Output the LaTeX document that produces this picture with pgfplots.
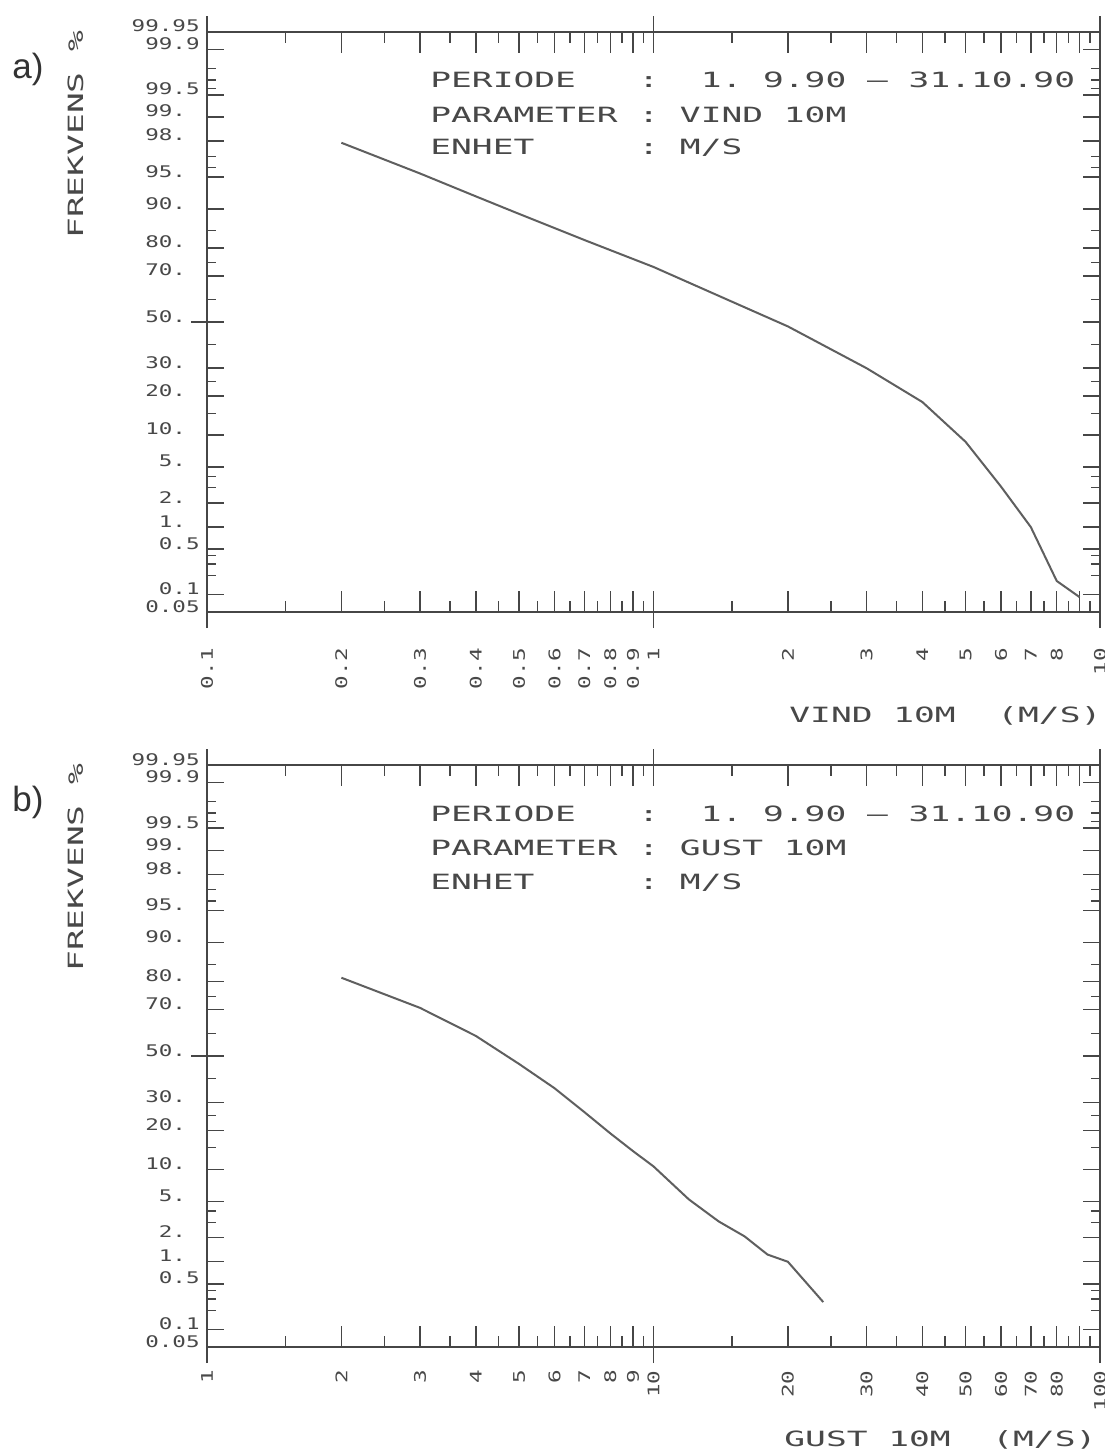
\documentclass[border=0pt]{standalone}
\usepackage{pgfplots}
\pgfplotsset{compat=1.18}
\usepackage{fontspec}
\setmainfont{Liberation Sans}
\newfontfamily\plotfont[FakeStretch=1.645]{DejaVu Sans Mono}
\newfontfamily\tickfont[FakeStretch=1.41]{DejaVu Sans Mono}

\definecolor{axgray}{RGB}{70,70,70}
\definecolor{txtgray}{RGB}{72,72,72}
\definecolor{curvegray}{RGB}{95,95,95}

\newcommand\ticklabelfont{\tickfont\fontsize{8pt}{8pt}\selectfont}
\newcommand\bodyfont{\plotfont\fontsize{10.5pt}{10.5pt}\selectfont}
\newcommand\blank{\phantom{0}}

% normal-probability scale: percentage -> standard normal quantile
% (rational approximation, Abramowitz & Stegun 26.2.23)
\newcommand\probT[1]{(sqrt(-2*ln(min(#1,100-#1)/100)))}
\newcommand\probit[1]{\fpeval{sign(#1-50)*(\probT{#1}-(2.515517+0.802853*\probT{#1}+0.010328*\probT{#1}^2)/(1+1.432788*\probT{#1}+0.189269*\probT{#1}^2+0.001308*\probT{#1}^3))}}

\pgfplotsset{
  probaxis/.style={
    scale only axis, width=446.5pt,
    anchor=south west,
    ymin=0.05, ymax=99.95,
    y coord trafo/.code={\edef\pgfmathresult{\probit{##1}}},
    axis line style={draw=axgray, line width=0.85pt},
    tick style={draw=axgray, line width=0.7pt},
    tick align=inside,
  },
  xticks/.style={
    ytick=\empty,
    major tick length=10.5pt, minor tick length=5.5pt,
    xticklabel style={font=\ticklabelfont, text=txtgray, rotate=90, anchor=east, inner sep=0pt},
  },
  yticks/.style={
    xtick=\empty,
    major tick length=8.5pt, minor tick length=4.5pt,
    ytick={0.05,0.1,0.5,1,2,5,10,20,30,50,70,80,90,95,98,99,99.5,99.9,99.95},
    yticklabels={0.05,0.1,0.5,1.\blank,2.\blank,5.\blank,10.\blank,20.\blank,30.\blank,50.\blank,70.\blank,80.\blank,90.\blank,95.\blank,98.\blank,99.\blank,99.5,99.9,99.95},
    minor ytick={0.2,0.3,0.4,3,4,15,25,40,60,75,85,96,97,99.6,99.7,99.8},
    ytick pos=both, yticklabel pos=left,
    yticklabel style={font=\ticklabelfont, text=txtgray, anchor=base east, inner sep=0pt},
    yticklabel shift=3.5pt,
  },
  crossticks/.style={
    ytick={50}, ytick pos=left,
    xticklabels={}, yticklabels={},
    tick align=center,
    major tick length=16pt, minor tick length=0pt,
  },
  panelA/.style={at={(103.5pt,-306pt)}, height=290pt, xmin=0.1, xmax=10},
  panelB/.style={at={(103.5pt,-673.5pt)}, height=291pt, xmin=1, xmax=100},
}

\begin{document}
\begin{tikzpicture}
\path[use as bounding box] (0pt,0pt) rectangle (552pt,-725.5pt);
\fill[white] (0pt,0pt) rectangle (552pt,-725.5pt);

% ---------------- a) mean wind ----------------
\begin{axis}[xmode=log, probaxis, xticks, panelA,
  xtick={0.1,0.2,0.3,0.4,0.5,0.6,0.7,0.8,0.9,1,2,3,4,5,6,7,8,9,10},
  xticklabels={0.1,0.2,0.3,0.4,0.5,0.6,0.7,0.8,0.9,1,2,3,4,5,6,7,8,,10},
  minor xtick={0.15,0.25,0.35,0.45,0.55,0.65,0.75,0.85,0.95,1.5,2.5,3.5,4.5,5.5,6.5,7.5,8.5,9.5},
  xticklabel shift=18pt]
\addplot[curvegray, line width=1pt, mark=none] table {
x    p
0.2  97.9
0.3  95.4
0.4  92.3
0.5  89.0
0.7  82.4
1.0  73.4
1.5  59.1
2.0  48.0
3.0  30.0
4.0  18.2
5.0  8.7
6.0  3.1
7.0  1.0
8.0  0.165
9.0  0.09
};
\end{axis}
\begin{axis}[xmode=log, probaxis, yticks, panelA]
\end{axis}
\begin{axis}[xmode=log, probaxis, crossticks, panelA, xtick={0.1,1,10}]
\end{axis}

% ---------------- b) gust ----------------
\begin{axis}[xmode=log, probaxis, xticks, panelB,
  xtick={1,2,3,4,5,6,7,8,9,10,20,30,40,50,60,70,80,90,100},
  xticklabels={1,2,3,4,5,6,7,8,9,10,20,30,40,50,60,70,80,,100},
  minor xtick={1.5,2.5,3.5,4.5,5.5,6.5,7.5,8.5,9.5,15,25,35,45,55,65,75,85,95},
  xticklabel shift=11.5pt]
\addplot[curvegray, line width=1pt, mark=none] table {
x    p
2    81.2
3    70.7
4    59.0
5    46.4
6    35.8
7    26.3
8    19.1
9    14.1
10   10.6
12   5.25
14   3.07
16   2.07
18   1.24
20   1.0
24   0.27
};
\end{axis}
\begin{axis}[xmode=log, probaxis, yticks, panelB]
\end{axis}
\begin{axis}[xmode=log, probaxis, crossticks, panelB, xtick={1,10,100}]
\end{axis}

% ---------------- labels and header text ----------------
\begin{scope}[every node/.style={inner sep=0pt, text=txtgray}]
\node[anchor=base west, font=\fontsize{17.5pt}{17.5pt}\selectfont, text=black!80] at (6pt,-39pt) {a)};
\node[anchor=base west, font=\fontsize{17.5pt}{17.5pt}\selectfont, text=black!80] at (6pt,-405.5pt) {b)};

\node[anchor=base west, rotate=90, font=\bodyfont] at (41.5pt,-119.5pt) {FREKVENS\blank\%};
\node[anchor=base west, rotate=90, font=\bodyfont] at (41.5pt,-486pt) {FREKVENS\blank\%};

\node[anchor=base west, font=\bodyfont] at (215pt,-43.5pt) {PERIODE\blank\blank\blank:\blank\blank1.\blank9.90\blank–\blank31.10.90};
\node[anchor=base west, font=\bodyfont] at (215pt,-61pt) {PARAMETER\blank:\blank VIND\blank10M};
\node[anchor=base west, font=\bodyfont] at (215pt,-77pt) {ENHET\blank\blank\blank\blank\blank:\blank M/S};

\node[anchor=base west, font=\bodyfont] at (215pt,-410.5pt) {PERIODE\blank\blank\blank:\blank\blank1.\blank9.90\blank–\blank31.10.90};
\node[anchor=base west, font=\bodyfont] at (215pt,-427.5pt) {PARAMETER\blank:\blank GUST\blank10M};
\node[anchor=base west, font=\bodyfont] at (215pt,-444.5pt) {ENHET\blank\blank\blank\blank\blank:\blank M/S};

\node[anchor=base west, font=\bodyfont] at (394.5pt,-361pt) {VIND\blank10M\blank\blank(M/S)};
\node[anchor=base west, font=\bodyfont] at (392pt,-723pt) {GUST\blank10M\blank\blank(M/S)};
\end{scope}
\end{tikzpicture}
\end{document}
